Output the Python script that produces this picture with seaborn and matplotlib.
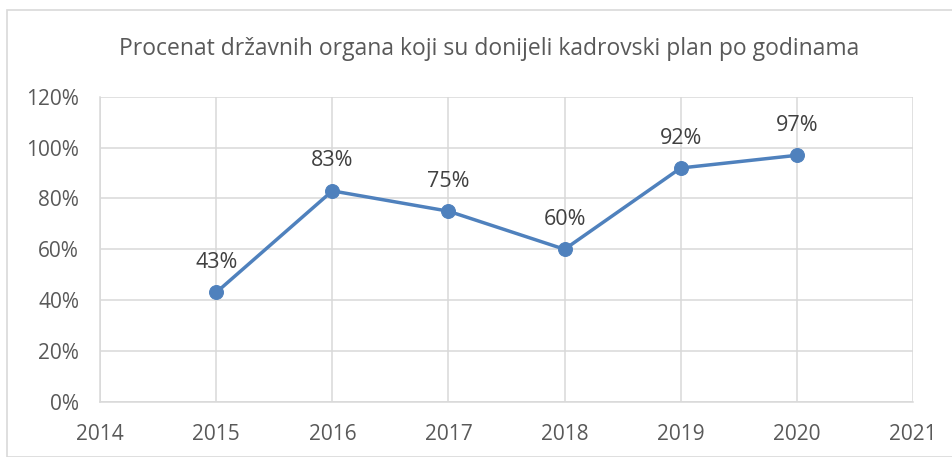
import matplotlib
matplotlib.use("Agg")
import matplotlib.pyplot as plt
import seaborn as sns
import pandas as pd
from matplotlib.patches import Rectangle
from matplotlib.ticker import FuncFormatter, MultipleLocator

sns.set_style("white")
plt.rcParams['font.family'] = ['Open Sans', 'DejaVu Sans']

# data
years = [2015, 2016, 2017, 2018, 2019, 2020]
percent = [0.43, 0.83, 0.75, 0.60, 0.92, 0.97]
labels = ['43%', '83%', '75%', '60%', '92%', '97%']
title = 'Procenat državnih organa koji su donijeli kadrovski plan po godinama'

df = pd.DataFrame({'year': years, 'percent': percent})

line_col = '#4F81BD'
grid_col = '#D9D9D9'
text_col = '#595959'

fig = plt.figure(figsize=(9.53, 4.57), dpi=100)
ax = fig.add_axes([0.105, 0.121, 0.853, 0.667])

sns.lineplot(data=df, x='year', y='percent', ax=ax, color=line_col,
             linewidth=2.5, marker='o', markersize=10,
             markeredgecolor=line_col, markerfacecolor=line_col)

for x, y, t in zip(years, percent, labels):
    ax.annotate(t, (x, y), xytext=(0, 14), textcoords='offset points',
                ha='center', va='bottom', fontsize=15.5, color='#404040')

ax.set_xlim(2014, 2021)
ax.set_ylim(0, 1.2)
ax.xaxis.set_major_locator(MultipleLocator(1))
ax.yaxis.set_major_locator(MultipleLocator(0.2))
ax.yaxis.set_major_formatter(FuncFormatter(lambda v, p: f'{v*100:.0f}%'))
ax.grid(True, color=grid_col, linewidth=1.1)
ax.set_axisbelow(True)
for s in ['top', 'right']:
    ax.spines[s].set_visible(False)
for s in ['left', 'bottom']:
    ax.spines[s].set_color(grid_col)
    ax.spines[s].set_linewidth(1.1)
ax.tick_params(axis='both', length=0, labelsize=15, colors=text_col)
ax.tick_params(axis='x', pad=16)
ax.tick_params(axis='y', pad=15)
ax.set_xlabel('')
ax.set_ylabel('')

fig.text(0.513, 0.893, title, ha='center', va='center', fontsize=16.5, color=text_col)

# chart frame
fig.patches.append(Rectangle((7 / 953, 0), 1, 1 - 10 / 457, transform=fig.transFigure,
                             fill=False, edgecolor=grid_col, linewidth=1.2))

fig.savefig('out.png', dpi=100)
